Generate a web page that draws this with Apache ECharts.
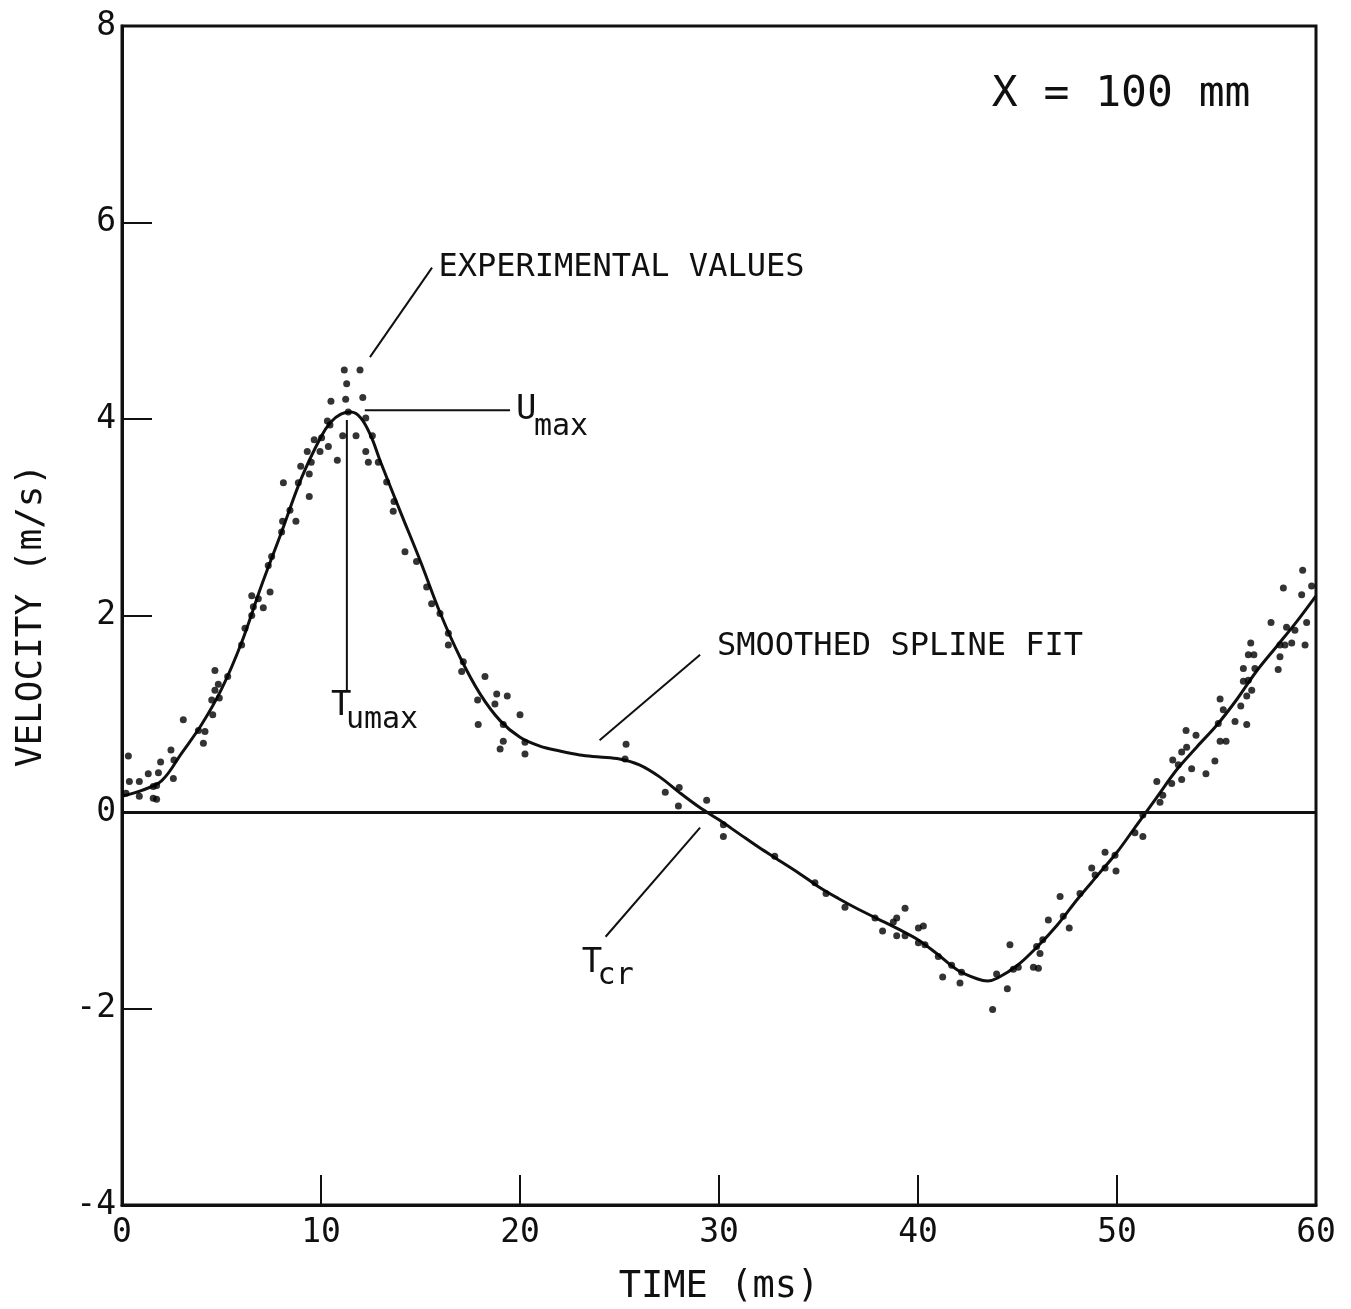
<!DOCTYPE html>
<html>
<head>
<meta charset="utf-8">
<script src="https://cdn.jsdelivr.net/npm/echarts@6/dist/echarts.min.js"></script>
<style>
  html, body { margin: 0; padding: 0; background: #ffffff; }
  #chart { width: 1351px; height: 1309px; }
</style>
</head>
<body>
<div id="chart"></div>
<script>
// Axis ranges (ms, m/s)
const timeTicks = [0, 10, 20, 30, 40, 50, 60];
const velocityTicks = [-4, -2, 0, 2, 4, 6, 8];

// Smoothed spline fit through the measurements
const fitTime = [0, 1, 2, 3, 4, 5, 6, 7, 8, 9, 10, 10.5, 11, 11.5, 12, 12.5, 13, 14, 15, 16, 17, 18, 19, 20,
  21, 22, 23, 24, 25, 26, 27, 28, 29, 30, 31, 32, 33, 34, 35, 36, 37, 38, 39, 40,
  41, 42, 43, 43.5, 44, 45, 46, 47, 48, 49, 50, 51, 52, 53, 54, 55, 56, 57, 58, 59, 60];
const fitVelocity = [0.16, 0.22, 0.32, 0.6, 0.89, 1.25, 1.72, 2.3, 2.84, 3.39, 3.82, 3.97, 4.05, 4.07, 4.01, 3.83, 3.56, 3.05, 2.55, 2.02, 1.57, 1.2, 0.93, 0.76,
  0.67, 0.62, 0.58, 0.56, 0.54, 0.48, 0.36, 0.2, 0.05, -0.08, -0.22, -0.36, -0.49, -0.62, -0.76, -0.88, -0.99, -1.09, -1.19, -1.3,
  -1.45, -1.61, -1.7, -1.72, -1.69, -1.56, -1.37, -1.15, -0.89, -0.65, -0.41, -0.13, 0.15, 0.43, 0.66, 0.88, 1.14, 1.43, 1.68, 1.93, 2.2];

// Experimental values [time, velocity]
const riseValues = [
  [0.2, 0.19], [0.32, 0.57], [0.37, 0.31], [0.87, 0.31], [0.87, 0.16], [1.32, 0.39], [1.57, 0.26], [1.57, 0.14],
  [1.74, 0.27], [1.74, 0.13], [1.83, 0.40], [1.94, 0.51], [2.46, 0.63], [2.58, 0.34], [2.61, 0.53], [3.08, 0.94],
  [3.84, 0.83], [4.09, 0.70], [4.17, 0.82], [4.51, 1.14], [4.56, 0.99], [4.67, 1.44], [4.67, 1.24], [4.84, 1.30],
  [4.89, 1.16], [5.31, 1.38], [6.01, 1.70], [6.18, 1.87], [6.52, 2.20], [6.52, 2.0], [6.6, 2.09], [6.85, 2.17],
  [7.1, 2.08], [7.35, 2.51], [7.44, 2.24], [7.52, 2.60], [8.02, 2.85], [8.07, 2.96], [8.11, 3.35], [8.44, 3.07],
  [8.74, 2.96], [8.86, 3.35], [8.98, 3.52], [9.31, 3.67], [9.41, 3.44], [9.41, 3.21], [9.51, 3.56], [9.66, 3.79],
  [9.95, 3.67], [10.03, 3.81], [10.32, 3.98], [10.37, 3.72], [10.45, 3.94], [10.5, 4.18], [10.82, 3.58]
];
const peakValues = [
  [11.09, 3.83], [11.17, 4.50], [11.24, 4.20], [11.29, 4.36], [11.37, 4.07], [11.76, 3.83], [11.96, 4.50],
  [12.1, 4.22], [12.25, 4.01], [12.25, 3.67], [12.38, 3.56], [12.58, 3.83], [12.88, 3.56], [13.3, 3.36],
  [13.63, 3.06], [13.67, 3.16], [14.22, 2.65], [14.8, 2.55], [15.31, 2.29], [15.56, 2.12], [15.98, 2.02]
];
const fallValues = [
  [16.4, 1.82], [16.4, 1.70], [17.07, 1.43], [17.15, 1.53], [17.87, 1.14], [17.9, 0.89], [18.24, 1.38],
  [18.74, 1.10], [18.83, 1.20], [19.0, 0.64], [19.16, 0.89], [19.16, 0.72], [19.36, 1.18], [20.0, 0.99],
  [20.25, 0.71], [20.25, 0.59], [25.28, 0.54], [25.33, 0.69], [27.3, 0.20], [27.96, 0.06], [28.0, 0.25],
  [29.38, 0.12], [30.22, -0.13], [30.22, -0.25], [32.8, -0.45]
];
const troughValues = [
  [34.82, -0.72], [35.38, -0.83], [36.33, -0.97], [37.84, -1.08], [38.22, -1.21], [38.76, -1.12], [38.93, -1.08],
  [38.93, -1.26], [39.35, -0.98], [39.35, -1.26], [40.02, -1.18], [40.02, -1.33], [40.27, -1.16], [40.35, -1.35],
  [41.02, -1.47], [41.24, -1.68], [41.69, -1.56], [42.11, -1.74], [42.19, -1.63], [43.75, -2.01], [43.95, -1.65],
  [44.49, -1.80], [44.62, -1.35], [44.79, -1.60], [45.04, -1.58], [45.8, -1.58], [45.96, -1.37], [46.05, -1.59],
  [46.13, -1.44], [46.27, -1.30], [46.55, -1.10], [47.14, -0.86], [47.3, -1.06], [47.6, -1.18], [48.14, -0.83],
  [48.73, -0.57], [48.9, -0.64]
];
const recoveryValues = [
  [49.4, -0.41], [49.4, -0.57], [49.9, -0.44], [49.95, -0.60], [50.9, -0.21], [51.3, -0.25], [51.3, -0.03],
  [52.0, 0.31], [52.16, 0.10], [52.3, 0.17], [52.75, 0.29], [52.8, 0.53], [53.08, 0.48], [53.25, 0.33],
  [53.25, 0.61], [53.47, 0.83], [53.5, 0.66], [53.75, 0.44], [53.97, 0.78], [54.47, 0.39], [54.92, 0.52],
  [55.09, 0.90], [55.18, 0.72], [55.18, 1.15], [55.34, 1.04], [55.48, 0.72], [55.93, 0.92], [56.22, 1.08],
  [56.35, 1.33], [56.35, 1.46], [56.52, 0.89], [56.52, 1.18], [56.6, 1.34], [56.6, 1.60], [56.72, 1.72],
  [56.77, 1.24], [56.88, 1.60], [56.93, 1.46], [57.74, 1.93], [58.1, 1.45], [58.19, 1.58], [58.19, 1.70],
  [58.36, 2.28], [58.44, 1.70], [58.52, 1.88], [58.78, 1.72], [58.94, 1.85], [59.28, 2.21], [59.33, 2.46],
  [59.45, 1.70], [59.53, 1.93], [59.78, 2.30]
];

const INK = '#101010';
const MONO = '"DejaVu Sans Mono", "Liberation Mono", monospace';

const experimental = [].concat(riseValues, peakValues, fallValues, troughValues, recoveryValues);
const fitLine = fitTime.map((t, i) => [t, fitVelocity[i]]);

const chart = echarts.init(document.getElementById('chart'), null, { renderer: 'canvas' });

chart.setOption({
  animation: false,
  backgroundColor: '#ffffff',
  grid: {
    left: 122, right: 35, top: 26, bottom: 104,
    outerBoundsMode: 'none',
    show: true, borderColor: INK, borderWidth: 3, backgroundColor: 'transparent'
  },
  xAxis: {
    type: 'value',
    min: timeTicks[0], max: timeTicks[timeTicks.length - 1], interval: 10,
    name: 'TIME (ms)', nameLocation: 'middle', nameGap: 64,
    nameTextStyle: { fontFamily: MONO, fontSize: 37, color: INK },
    axisLine: { show: true, onZero: false, lineStyle: { color: INK, width: 3 } },
    axisTick: { show: true, inside: true, length: 30, lineStyle: { color: INK, width: 2 } },
    axisLabel: { fontFamily: MONO, fontSize: 33, color: INK, margin: 12 },
    splitLine: { show: false }
  },
  yAxis: {
    type: 'value',
    min: velocityTicks[0], max: velocityTicks[velocityTicks.length - 1], interval: 2,
    name: 'VELOCITY (m/s)', nameLocation: 'middle', nameGap: 72, nameRotate: 90,
    nameTextStyle: { fontFamily: MONO, fontSize: 36, color: INK },
    axisLine: { show: true, onZero: false, lineStyle: { color: INK, width: 3 } },
    axisTick: { show: true, inside: true, length: 30, lineStyle: { color: INK, width: 2 } },
    axisLabel: { fontFamily: MONO, fontSize: 33, color: INK, margin: 6 },
    splitLine: { show: false }
  },
  series: [
    {
      name: 'Smoothed spline fit',
      type: 'line',
      data: fitLine,
      smooth: 0.35,
      showSymbol: false,
      lineStyle: { color: INK, width: 3 },
      z: 3,
      markLine: {
        silent: true,
        symbol: 'none',
        label: { show: false },
        lineStyle: { color: INK, width: 3, type: 'solid' },
        data: [{ yAxis: 0 }]
      }
    },
    {
      name: 'Experimental values',
      type: 'scatter',
      data: experimental,
      symbol: 'circle',
      symbolSize: 7,
      itemStyle: { color: '#000000' },
      z: 4
    }
  ]
});

// Annotations placed in data coordinates
function px(t, v) { return chart.convertToPixel({ gridIndex: 0 }, [t, v]); }
function seg(a, b) {
  const p = px(a[0], a[1]), q = px(b[0], b[1]);
  return { type: 'line', silent: true, z: 10,
    shape: { x1: p[0], y1: p[1], x2: q[0], y2: q[1] },
    style: { stroke: INK, lineWidth: 2 } };
}
function txt(t, v, s, size, align, valign) {
  const p = px(t, v);
  return { type: 'text', silent: true, z: 10, x: p[0], y: p[1],
    style: { text: s, font: size + 'px ' + MONO, fill: INK,
      textAlign: align || 'left', textVerticalAlign: valign || 'middle' } };
}

chart.setOption({
  graphic: [
    // Experimental values callout
    seg([12.46, 4.63], [15.58, 5.54]),
    txt(15.9, 5.54, 'EXPERIMENTAL VALUES', 32),
    // U max marker
    seg([12.2, 4.09], [19.5, 4.09]),
    txt(19.8, 4.09, 'U', 34),
    txt(20.7, 3.92, 'max', 30),
    // T umax marker
    seg([11.3, 3.99], [11.3, 1.24]),
    txt(10.5, 1.08, 'T', 34),
    txt(11.25, 0.93, 'umax', 30),
    // Spline fit callout
    seg([24.0, 0.73], [29.05, 1.6]),
    txt(29.9, 1.68, 'SMOOTHED SPLINE FIT', 32),
    // Crossing time marker
    seg([29.05, -0.16], [24.3, -1.27]),
    txt(23.1, -1.54, 'T', 34),
    txt(23.9, -1.67, 'cr', 30),
    // Station label
    txt(43.7, 7.3, 'X = 100 mm', 43)
  ]
});
</script>
</body>
</html>
